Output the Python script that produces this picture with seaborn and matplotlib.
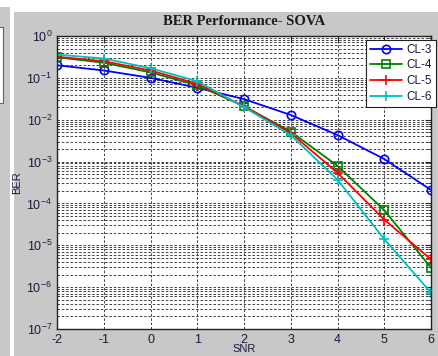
import matplotlib
matplotlib.use("Agg")
import matplotlib.pyplot as plt
import matplotlib.patches as mpatches
import seaborn as sns
import pandas as pd
import numpy as np
from matplotlib.ticker import LogLocator, FixedLocator, NullFormatter

snr = [-2, -1, 0, 1, 2, 3, 4, 5, 6]
cl3 = [0.20, 0.15, 0.10, 0.058, 0.031, 0.013, 0.0043, 0.00115, 0.00021]
cl4 = [0.31, 0.23, 0.135, 0.066, 0.021, 0.0052, 0.00079, 0.000069, 0.0000029]
cl5 = [0.32, 0.25, 0.15, 0.072, 0.021, 0.0048, 0.00054, 0.000041, 0.0000046]
cl6 = [0.36, 0.29, 0.17, 0.083, 0.020, 0.0043, 0.00037, 0.000014, 0.00000074]
series_names = ["CL-3", "CL-4", "CL-5", "CL-6"]
title = "BER Performance- SOVA"

sns.set_style("white")
plt.rcParams['font.family'] = ['Liberation Sans', 'DejaVu Sans']
plt.rcParams['mathtext.fontset'] = 'custom'
plt.rcParams['mathtext.rm'] = 'Liberation Sans'
plt.rcParams['mathtext.it'] = 'Liberation Sans'
plt.rcParams['axes.unicode_minus'] = False

df = pd.DataFrame({
    "SNR": snr * 4,
    "BER": cl3 + cl4 + cl5 + cl6,
    "series": sum([[n] * len(snr) for n in series_names], []),
})

fig = plt.figure(figsize=(4.38, 3.56), dpi=100, facecolor="white")
W, H = 438, 356
gray = "#c8c8c8"
fig.patches.append(mpatches.Rectangle((0, 0), 10 / W, (H - 7) / H, transform=fig.transFigure,
                                      facecolor=gray, edgecolor="none", zorder=-10))
fig.patches.append(mpatches.Rectangle((14 / W, 0), 1 - 14 / W, (H - 12) / H, transform=fig.transFigure,
                                      facecolor=gray, edgecolor="none", zorder=-10))
fig.patches.append(mpatches.Rectangle((-5 / W, (H - 103) / H), 8 / W, 76 / H, transform=fig.transFigure,
                                      facecolor="white", edgecolor="#606060", lw=0.8, zorder=-9))

ax = fig.add_axes([57 / W, (H - 329) / H, (431 - 57) / W, (329 - 36) / H])
ax.set_facecolor("white")

colors = {"CL-3": "#0000ff", "CL-4": "#008000", "CL-5": "#ff0000", "CL-6": "#00bfbf"}
markers = {"CL-3": "o", "CL-4": "s", "CL-5": "+", "CL-6": "+"}
for name in series_names:
    sub = df[df["series"] == name]
    sns.lineplot(data=sub, x="SNR", y="BER", ax=ax, color=colors[name], lw=1.3,
                 marker=markers[name],
                 markersize=6 if markers[name] != "+" else 7, markerfacecolor="none",
                 markeredgecolor=colors[name], markeredgewidth=1.2, label=name)

ax.set_yscale("log")
ax.set_xlim(-2, 6)
ax.set_ylim(1e-7, 1e0)
ax.xaxis.set_major_locator(FixedLocator(snr))
ax.yaxis.set_major_locator(LogLocator(base=10, numticks=10))
ax.yaxis.set_minor_locator(LogLocator(base=10, subs=np.arange(2, 10), numticks=20))
ax.yaxis.set_minor_formatter(NullFormatter())

gl = dict(color="#222222", linestyle=(0, (3, 2.2)), linewidth=0.6)
ax.grid(True, which="major", axis="both", **gl)
ax.grid(True, which="minor", axis="y", **gl)

ax.tick_params(which="both", direction="in", top=True, right=True, labelsize=9,
               labelcolor="#1a1a40", color="#222222")
ax.tick_params(which="major", length=4)
ax.tick_params(which="minor", length=2)
for s in ax.spines.values():
    s.set_color("#222222")
    s.set_linewidth(1.0)

ax.set_title(title, family="Liberation Serif", fontweight="bold", fontsize=10.5, pad=8, color="#1a1a1a")
ax.set_xlabel("SNR", fontsize=8, labelpad=-1, color="#1a1a40")
ax.set_ylabel("BER", fontsize=8, labelpad=3, color="#1a1a40")

leg = ax.legend(loc="upper left", bbox_to_anchor=(0.826, 0.988), fontsize=8.5, frameon=True,
                fancybox=False, framealpha=1, edgecolor="#222222", borderpad=0.35,
                handlelength=2.7, labelspacing=0.32, handletextpad=0.4, borderaxespad=0)
leg.get_frame().set_linewidth(0.8)
for t in leg.get_texts():
    t.set_color("#1a1a40")

fig.savefig("out.png", dpi=100, facecolor=fig.get_facecolor())
